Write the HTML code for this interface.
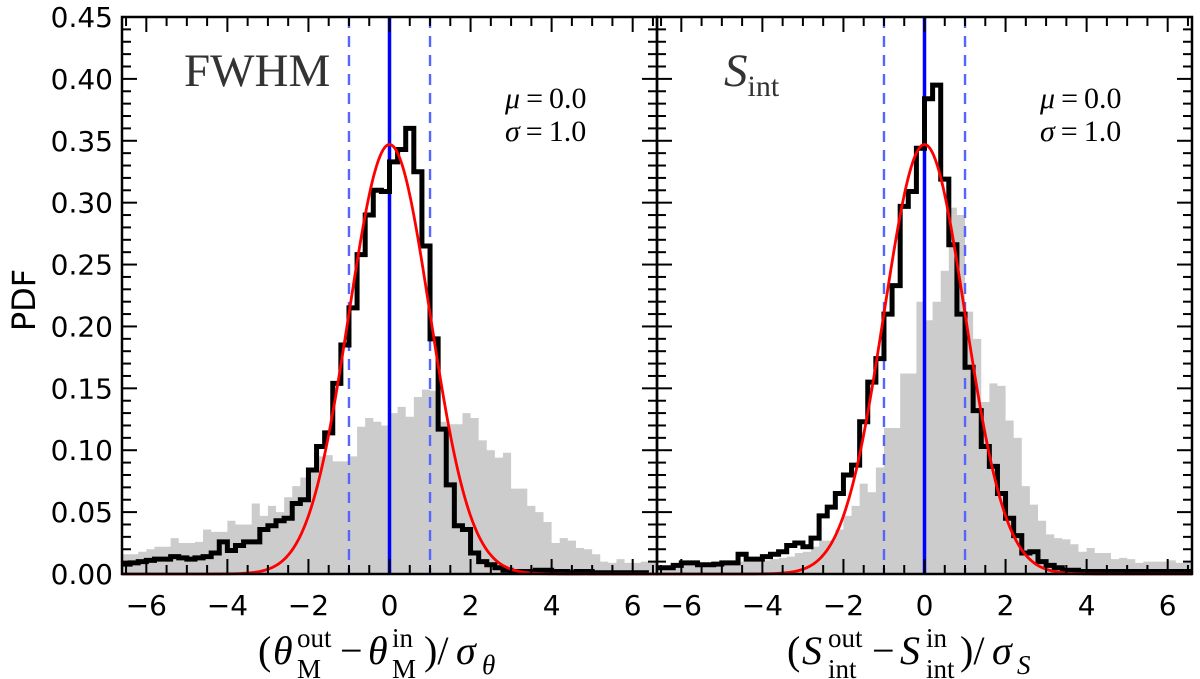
<!DOCTYPE html>
<html><head><meta charset="utf-8">
<style>
html,body{margin:0;padding:0;background:#fff;}
svg{display:block;}
</style></head>
<body>
<svg id="chart" width="1200" height="679" xmlns="http://www.w3.org/2000/svg"></svg>
<script>
// ---- data (bins of width 0.2 from -6.6 to 6.6) ----
const binStart = -6.6;
const binWidth = 0.2;
const fwhmGray = [0.016,0.016,0.018,0.02,0.022,0.022,0.029,0.025,0.025,0.026,0.036,0.034,0.034,0.043,0.04,0.04,0.057,0.047,0.055,0.05,0.062,0.071,0.078,0.085,0.095,0.096,0.091,0.091,0.095,0.119,0.126,0.123,0.12,
  0.13,0.135,0.127,0.143,0.149,0.148,0.123,0.121,0.121,0.13,0.126,0.108,0.10,0.094,0.098,0.069,0.069,0.055,0.05,0.042,0.025,0.029,0.027,0.021,0.02,0.016,0.01,0.009,0.012,0.009,0.009,0.01,0.01];
const fwhmBlack = [0.008,0.009,0.010,0.011,0.012,0.012,0.014,0.013,0.012,0.013,0.014,0.017,0.026,0.019,0.023,0.026,0.026,0.036,0.039,0.043,0.045,0.057,0.060,0.084,0.103,0.114,0.154,0.185,0.215,0.258,0.29,0.31,0.309,
  0.333,0.343,0.36,0.325,0.265,0.19,0.117,0.072,0.039,0.036,0.017,0.010,0.0075,0.005,0.003,0.002,0.002,0.002,0.003,0.003,0.002,0.002,0.001,0.002,0.002,0.001,0.001,0.001,0.001,0.001,0.001,0.001];
const sintGray = [0.006,0.006,0.007,0.007,0.008,0.008,0.008,0.009,0.009,0.009,0.01,0.01,0.011,0.011,0.012,0.013,0.014,0.017,0.018,0.022,0.027,0.027,0.036,0.047,0.055,0.073,0.066,0.086,0.118,0.118,0.162,0.162,0.22,
  0.205,0.22,0.245,0.296,0.29,0.212,0.19,0.139,0.154,0.152,0.124,0.11,0.071,0.056,0.043,0.032,0.029,0.028,0.024,0.018,0.021,0.017,0.017,0.012,0.013,0.012,0.009,0.01,0.01,0.01,0.011,0.009,0.009];
const sintBlack = [0.005,0.005,0.007,0.009,0.009,0.0075,0.0075,0.008,0.009,0.009,0.016,0.012,0.012,0.014,0.016,0.018,0.023,0.025,0.022,0.029,0.047,0.054,0.065,0.080,0.088,0.123,0.155,0.174,0.21,0.233,0.297,0.309,0.344,
  0.384,0.395,0.319,0.266,0.21,0.167,0.132,0.103,0.087,0.065,0.045,0.031,0.017,0.018,0.01,0.007,0.005,0.003,0.003,0.002,0.002,0.002,0.002,0.002,0.002,0.002,0.002,0.002,0.002,0.002,0.002,0.002,0.002];
const fitParams = [0.0, 1.0, 0.347]; // mu, sigma, amplitude
const yTicks = ["0.00","0.05","0.10","0.15","0.20","0.25","0.30","0.35","0.40","0.45"];
const xTicks = [-6,-4,-2,0,2,4,6];

const NS = "http://www.w3.org/2000/svg";
const svg = document.getElementById('chart');
const TOP = 17, BOT = 574, XMIN = -6.6, XMAX = 6.6, YMAX = 0.45;
const panels = [
  {L:122, R:657, gray:fwhmGray, black:fwhmBlack, key:'fwhm'},
  {L:657, R:1192, gray:sintGray, black:sintBlack, key:'sint'}
];
function el(tag, attrs, parent){ const e=document.createElementNS(NS,tag); for(const k in attrs) e.setAttribute(k,attrs[k]); (parent||svg).appendChild(e); return e; }
function yS(v){ return BOT - v/YMAX*(BOT-TOP); }

panels.forEach((p, pi) => {
  const xS = u => p.L + (u-XMIN)/(XMAX-XMIN)*(p.R-p.L);
  const g = el('g', {});
  
  
  let d = `M${xS(binStart)},${yS(0)}`;
  p.gray.forEach((v,i)=>{ const a=binStart+i*binWidth; d+=` L${xS(a)},${yS(v)} L${xS(a+binWidth)},${yS(v)}`; });
  d += ` L${xS(binStart+p.gray.length*binWidth)},${yS(0)} Z`;
  const gh = el('path', {d, fill:'#cccccc', stroke:'none'}, g);
  
  
  const vl = el('line', {x1:xS(0),x2:xS(0),y1:TOP,y2:BOT,stroke:'#0000ff','stroke-width':3.5}, g);
  
  
  [-1,1].forEach(s=>{
    const dl = el('line', {x1:xS(s),x2:xS(s),y1:TOP,y2:BOT,stroke:'#5566ff','stroke-width':2.4,'stroke-dasharray':'11,8'}, g);
    
    
  });
  let sd = '';
  p.black.forEach((v,i)=>{ const a=binStart+i*binWidth; sd += (i===0?'M':' L')+`${xS(a)},${yS(v)} L${xS(a+binWidth)},${yS(v)}`; });
  const st = el('path', {d:sd, fill:'none', stroke:'#000','stroke-width':5,'stroke-linejoin':'miter'}, g);
  
  
  let rd='';
  for(let k=0;k<=400;k++){ const u=XMIN+k*(XMAX-XMIN)/400; const v=fitParams[2]*Math.exp(-Math.pow(u-fitParams[0],2)/(2*fitParams[1]*fitParams[1])); rd += (k?' L':'M')+`${xS(u).toFixed(2)},${yS(v).toFixed(2)}`; }
  const rc = el('path', {d:rd, fill:'none', stroke:'#ff0000','stroke-width':2.8}, g);
  
  
  for(let k=0;k<=45;k++){
    const y=yS(k*0.01), len=(k%5===0)?15:9;
    el('line',{x1:p.L,x2:p.L+len,y1:y,y2:y,stroke:'#000','stroke-width':2},g);
    el('line',{x1:p.R,x2:p.R-len,y1:y,y2:y,stroke:'#000','stroke-width':2},g);
  }
  for(let u=-6.5;u<=6.5;u+=0.5){
    const x=xS(u), len=(Math.abs(u%2)<1e-9)?15:9;
    el('line',{x1:x,x2:x,y1:BOT,y2:BOT-len,stroke:'#000','stroke-width':2},g);
    el('line',{x1:x,x2:x,y1:TOP,y2:TOP+len,stroke:'#000','stroke-width':2},g);
  }
  const fr = el('rect',{x:p.L,y:TOP,width:p.R-p.L,height:BOT-TOP,fill:'none',stroke:'#000','stroke-width':2.5},g);
  
  
  xTicks.forEach(t=>{
    const tx = el('text',{x:xS(t),y:615,'text-anchor':'middle','font-family':'DejaVu Sans, Liberation Sans, sans-serif','font-size':28,fill:'#000'},g);
    tx.textContent = (t<0?'\u2212':'')+Math.abs(t);
    
    
  });
  const sx = p.R - 152;
  const m = el('text',{x:sx,y:108,'font-family':'Liberation Serif, serif','font-size':30,fill:'#000'},g);
  m.innerHTML = '<tspan font-style="italic">\u03bc</tspan>\u2009=\u20090.0';
  
  
  const s = el('text',{x:sx,y:141,'font-family':'Liberation Serif, serif','font-size':30,fill:'#000'},g);
  s.innerHTML = '<tspan font-style="italic">\u03c3</tspan>\u2009=\u20091.0';
  
  
});

yTicks.forEach((t,i)=>{
  const ty = el('text',{x:113,y:yS(parseFloat(t))+10,'text-anchor':'end','font-family':'DejaVu Sans, Liberation Sans, sans-serif','font-size':28,fill:'#000'});
  ty.textContent = t;
  
  
});
</script>
<svg width="1200" height="679" style="position:absolute;left:0;top:0" xmlns="http://www.w3.org/2000/svg">
  <text x="0" y="0" transform="translate(35,300) rotate(-90)" text-anchor="middle" font-family="DejaVu Sans, Liberation Sans, sans-serif" font-size="32">PDF</text>
  <text x="184" y="86" font-family="Liberation Serif, serif" font-size="47" fill="#333">FWHM</text>
  <text x="724" y="86" font-family="Liberation Serif, serif" font-size="47" fill="#333"><tspan font-style="italic">S</tspan><tspan font-size="30" dy="10">int</tspan></text>
  <g font-family="Liberation Serif, serif">
    <text x="258" y="664" font-size="40">(</text>
    <text x="273" y="664" font-size="40" font-style="italic">θ</text>
    <text x="297" y="647" font-size="27">out</text>
    <text x="297" y="678" font-size="27">M</text>
    <text x="340" y="664" font-size="40">−</text>
    <text x="368" y="664" font-size="40" font-style="italic">θ</text>
    <text x="392" y="647" font-size="27">in</text>
    <text x="392" y="678" font-size="27">M</text>
    <text x="424" y="664" font-size="40">)/</text>
    <text x="456" y="664" font-size="40" font-style="italic">σ</text>
    <text x="482" y="674" font-size="27" font-style="italic">θ</text>
  </g>
  <g font-family="Liberation Serif, serif">
    <text x="787" y="664" font-size="40">(</text>
    <text x="802" y="664" font-size="40" font-style="italic">S</text>
    <text x="828" y="647" font-size="27">out</text>
    <text x="828" y="678" font-size="27">int</text>
    <text x="872" y="664" font-size="40">−</text>
    <text x="900" y="664" font-size="40" font-style="italic">S</text>
    <text x="926" y="647" font-size="27">in</text>
    <text x="926" y="678" font-size="27">int</text>
    <text x="960" y="664" font-size="40">)/</text>
    <text x="992" y="664" font-size="40" font-style="italic">σ</text>
    <text x="1017" y="674" font-size="27" font-style="italic">S</text>
  </g>
</svg>
</body></html>
